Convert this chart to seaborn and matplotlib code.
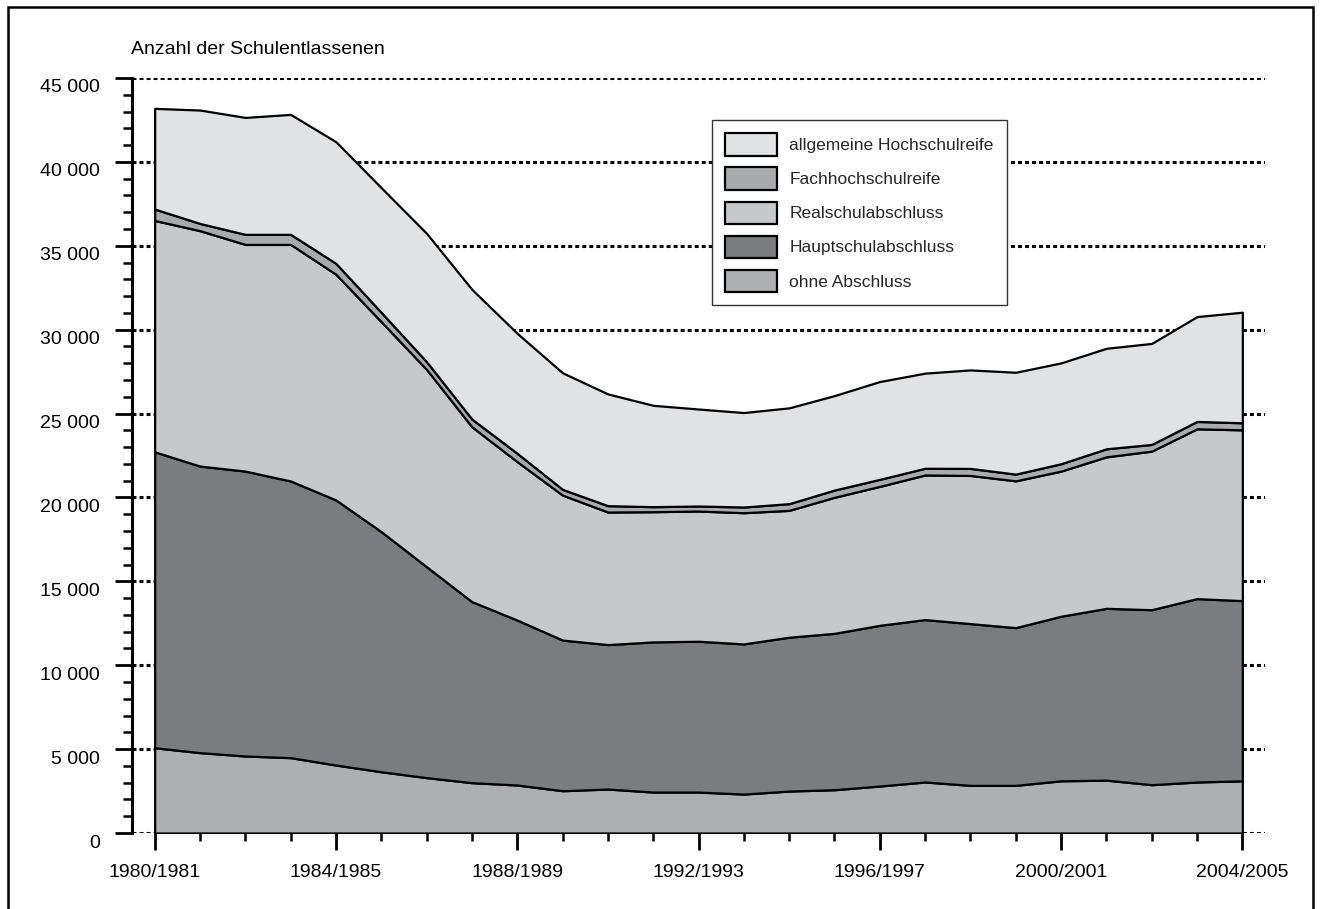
import matplotlib
matplotlib.use("Agg")
import matplotlib.pyplot as plt
import matplotlib.ticker as mticker
from matplotlib.patches import Rectangle
from matplotlib.transforms import ScaledTranslation
import seaborn as sns
import pandas as pd

# Schuljahre
years = [f"{y}/{y + 1}" for y in range(1980, 2005)]

# Schulentlassene nach Abschlussart
ohne_abschluss = [5080, 4790, 4590, 4490, 4050, 3650, 3300, 3000, 2860, 2520,
                  2620, 2440, 2440, 2320, 2500, 2580, 2800, 3040, 2840, 2840,
                  3110, 3150, 2880, 3040, 3110]
hauptschul = [17640, 17080, 16980, 16490, 15800, 14310, 12570, 10790, 9830, 8980,
              8610, 8950, 8990, 8950, 9170, 9320, 9580, 9680, 9640, 9400,
              9810, 10240, 10430, 10930, 10740]
realschul = [13790, 14030, 13510, 14100, 13450, 12510, 11760, 10420, 9440, 8640,
             7900, 7760, 7760, 7820, 7560, 8110, 8280, 8620, 8830, 8750,
             8650, 9030, 9450, 10120, 10180]
fachhochschul = [680, 430, 600, 600, 650, 560, 460, 460, 500, 340,
                 380, 300, 300, 340, 400, 430, 420, 400, 420, 400,
                 440, 480, 400, 440, 420]
allg_hochschul = [6000, 6760, 6970, 7150, 7250, 7430, 7650, 7730, 7150, 6950,
                  6660, 6040, 5780, 5630, 5710, 5630, 5830, 5670, 5870, 6070,
                  6010, 5990, 6020, 6250, 6590]

labels = ["ohne Abschluss", "Hauptschulabschluss", "Realschulabschluss",
          "Fachhochschulreife", "allgemeine Hochschulreife"]
colors = ["#aeafb1", "#7b7c80", "#c7c8ca", "#a9aaac", "#e1e2e4"]

df = pd.DataFrame({
    "jahr": years,
    labels[0]: ohne_abschluss,
    labels[1]: hauptschul,
    labels[2]: realschul,
    labels[3]: fachhochschul,
    labels[4]: allg_hochschul,
})

sns.set_theme(style="white")
plt.rcParams["font.family"] = ["Liberation Sans", "DejaVu Sans"]

fig = plt.figure(figsize=(13.24, 9.09), dpi=100)
ax = fig.add_axes([132 / 1324, 76 / 909, 1133 / 1324, 755 / 909])

x = list(range(len(years)))
ax.stackplot(x, [df[l] for l in labels], labels=labels, colors=colors,
             edgecolor="black", linewidth=1.6)

ax.set_xlim(-0.5, 24.5)
ax.set_ylim(0, 45000)

# Achsen
for side in ["top", "right", "bottom"]:
    ax.spines[side].set_visible(False)
ax.spines["left"].set_color("black")
ax.spines["left"].set_linewidth(2.2)

ax.yaxis.set_major_locator(mticker.MultipleLocator(5000))
ax.yaxis.set_minor_locator(mticker.MultipleLocator(1000))
ax.yaxis.set_major_formatter(
    mticker.FuncFormatter(lambda v, p: f"{int(v):,}".replace(",", " ")))

ax.set_xticks(x[::4])
ax.set_xticklabels(years[::4])
ax.set_xticks(x, minor=True)

ax.tick_params(axis="y", which="major", left=True, direction="out", length=12,
               width=2, color="black", pad=11, labelsize=14, labelcolor="black")
ax.tick_params(axis="y", which="minor", left=True, direction="out", length=6.5,
               width=1.8, color="black")
ax.tick_params(axis="x", which="major", bottom=True, direction="out", length=12,
               width=2, color="black", pad=10, labelsize=14, labelcolor="black")
ax.tick_params(axis="x", which="minor", bottom=True, direction="out", length=6,
               width=1.8, color="black")

# y-Beschriftung etwas tiefer
shift = ScaledTranslation(0, -8 / 100, fig.dpi_scale_trans)
for lab in ax.get_yticklabels():
    lab.set_transform(lab.get_transform() + shift)

# gepunktete Gitterlinien
ax.set_axisbelow(True)
ax.yaxis.grid(True, which="major", color="black", linewidth=2.2,
              linestyle=(0, (1.3, 1)))
ax.xaxis.grid(False)

# Legende
handles, leg_labels = ax.get_legend_handles_labels()
leg = ax.legend(handles[::-1], leg_labels[::-1], loc="upper left",
                bbox_to_anchor=(0.512, 0.944), borderaxespad=0,
                fontsize=12.5, frameon=True, fancybox=False, framealpha=1,
                edgecolor="#333333", handlelength=3.0, handleheight=1.6,
                handletextpad=0.7, labelspacing=0.68, borderpad=0.75)
leg.get_frame().set_linewidth(1)

fig.text(131 / 1324, 1 - 49 / 909, "Anzahl der Schulentlassenen",
         ha="left", va="center", fontsize=14, color="black")

# Rahmen um die Grafik
fig.add_artist(Rectangle((8 / 1324, -0.01), 1305 / 1324, 0.01 + 902 / 909,
                         transform=fig.transFigure, fill=False,
                         edgecolor="black", linewidth=1.8))

fig.savefig("out.png", dpi=100)
